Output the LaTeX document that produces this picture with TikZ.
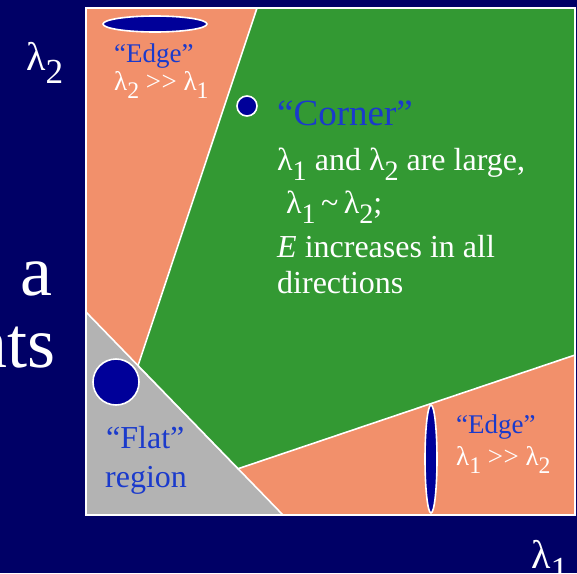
\documentclass[tikz,border=0pt]{standalone}
\usepackage{fontspec}
\setmainfont{Liberation Serif}
\usepackage{tikz}
\usetikzlibrary{positioning, calc}
\definecolor{slidebg}{HTML}{000066}
\definecolor{edgesal}{HTML}{F2906B}
\definecolor{corngrn}{HTML}{339933}
\definecolor{flatgry}{HTML}{B3B3B3}
\definecolor{txtblue}{HTML}{1A3ACC}
\definecolor{blobblue}{HTML}{000099}
\newcommand{\lam}[1]{λ\raisebox{-0.33em}{\scalebox{0.88}{#1}}}
\newcommand{\mgt}{>\kern0.5pt>}

\begin{document}
\begin{tikzpicture}[
    x=1pt, y=-1pt,
    region/.style = {draw=white, line width=1.6pt, line join=round},
    blob/.style   = {fill=blobblue, draw=white, line width=1.6pt},
    qtxt/.style   = {text=txtblue, inner sep=0pt, anchor=base west},
    wtxt/.style   = {text=white, inner sep=0pt, anchor=base west},
    small/.style  = {font=\fontsize{27}{32}\selectfont},
    body/.style   = {font=\fontsize{32}{40}\selectfont},
    axis/.style   = {text=white, inner sep=0pt, anchor=base west,
                     font=\fontsize{40}{48}\selectfont},
    slide/.style  = {text=white, inner sep=0pt, anchor=base east,
                     font=\fontsize{72}{80}\selectfont}
  ]

  %% slide background
  \fill[slidebg] (0,0) rectangle (577,573);
  \useasboundingbox (0,0) rectangle (577,573);

  %% cut-off slide text
  \node[slide] (sa) at (53,295) {a};
  \node[slide] (sb) at (56,367) {nts};

  %% corners of the plot
  \coordinate (tl) at (86,8);
  \coordinate (br) at (575,515);
  \coordinate (f1) at (86,312);
  \coordinate (f2) at (283,515);

  %% regions
  \fill[edgesal] (tl) rectangle (br);
  \draw[region, fill=flatgry] (f1) -- (f2) -- (86,515) -- cycle;
  \draw[region, fill=corngrn] (257,8) -- (575,8) -- (575,355)
        -- ($(f1)!0.772!(f2)$) -- ($(f1)!0.264!(f2)$) -- cycle;
  \draw[white, line width=1.6pt] (tl) rectangle (br);

  %% axis labels
  \node[axis] (l2) at (26,70) {\lam{2}};
  \node[axis] (l1) at (531,568) {\lam{1}};

  %% Edge (top)
  \draw[blob] (155,24) ellipse [x radius=52, y radius=8];
  \node[qtxt, small] (e1) at (114,62) {“Edge”};
  \node[wtxt, small] (e1r) at (114,90) {\lam{2} \mgt{} \lam{1}};

  %% Corner
  \draw[blob] (247,106) circle [radius=10];
  \node[qtxt, font=\fontsize{37}{44}\selectfont] (cn) at (277,125)
        {“Corner”};
  \node[wtxt, body] (c1) at (277,170) {\lam{1} and \lam{2} are large,};
  \node[wtxt, body] (c2) at (286,213) {\lam{1}\,\textasciitilde\,\lam{2};};
  \node[wtxt, body] (c3) at (277,257) {\textit{E} increases in all};
  \node[wtxt, body] (c4) at (277,293) {directions};

  %% Flat
  \draw[blob] (116,382) circle [radius=23];
  \node[qtxt, body] (fl) at (106,448) {“Flat”};
  \node[qtxt, body] (fr) at (105,487) {region};

  %% Edge (right)
  \draw[blob] (431,459) ellipse [x radius=6, y radius=54];
  \node[qtxt, small] (e2) at (456,433) {“Edge”};
  \node[wtxt, small] (e2r) at (456,465) {\lam{1} \mgt{} \lam{2}};

\end{tikzpicture}
\end{document}
